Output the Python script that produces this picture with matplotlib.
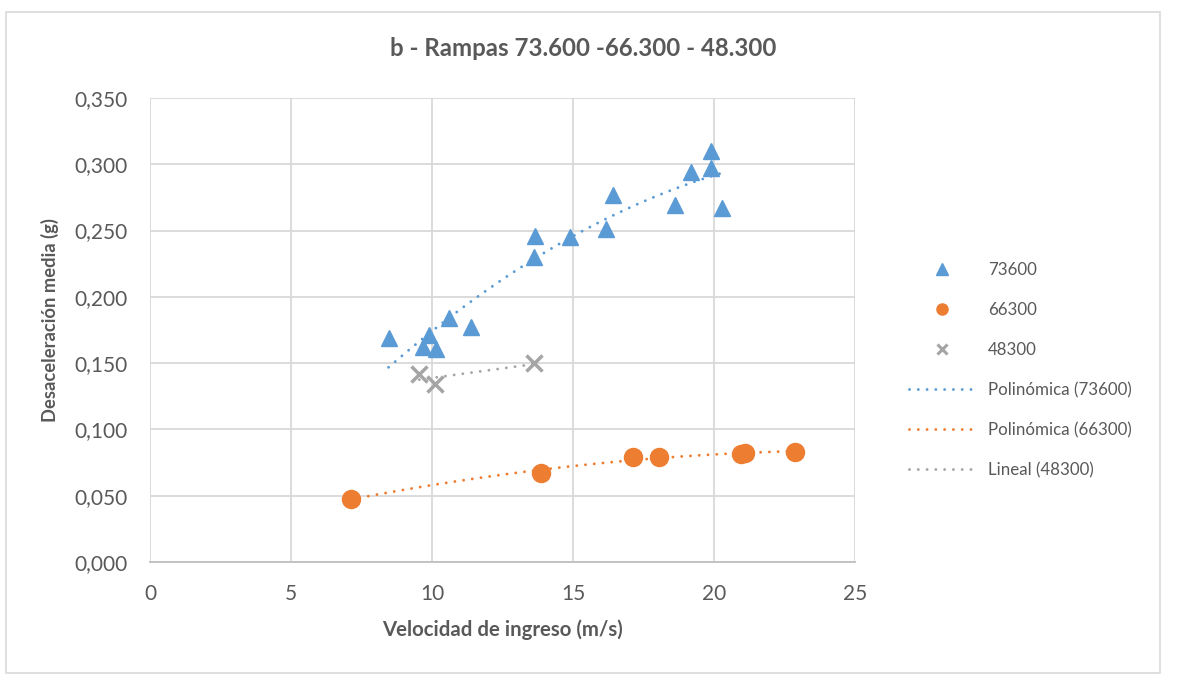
import numpy as np
import matplotlib.pyplot as plt
from matplotlib.patches import Rectangle

plt.rcParams["font.family"] = ["Lato", "DejaVu Sans"]

TEXT = "#595959"
BLUE = "#5B9BD5"
ORANGE = "#ED7D31"
GRAY = "#A5A5A5"

# 73600
x_73600 = [8.46, 9.67, 9.88, 10.14, 10.61, 11.39, 13.60, 13.65, 14.90, 16.18,
           16.43, 18.63, 19.19, 19.90, 19.90, 20.29]
y_73600 = [0.169, 0.162, 0.171, 0.161, 0.184, 0.177, 0.230, 0.246, 0.245, 0.251,
           0.277, 0.269, 0.294, 0.297, 0.310, 0.267]

# 66300
x_66300 = [7.13, 13.88, 17.14, 18.05, 20.94, 21.09, 22.86]
y_66300 = [0.0477, 0.0670, 0.0791, 0.0791, 0.0816, 0.0824, 0.0831]

# 48300
x_48300 = [9.55, 10.12, 13.62]
y_48300 = [0.142, 0.134, 0.150]

x_ticks = [0, 5, 10, 15, 20, 25]
y_ticks = [0.0, 0.05, 0.10, 0.15, 0.20, 0.25, 0.30, 0.35]

fig = plt.figure(figsize=(11.82, 6.75), dpi=100)
fig.patches.append(Rectangle((6 / 1182, 1 - 673 / 675), 1154 / 1182, 661 / 675,
                             transform=fig.transFigure, fill=False,
                             edgecolor="#d9d9d9", linewidth=1.2))

ax = fig.add_axes([150 / 1182, 1 - 562 / 675, 705 / 1182, 464 / 675])

dot = dict(linestyle=(0, (0.01, 3)), dash_capstyle="round", linewidth=2.1)


def trend(x, y, deg):
    c = np.polyfit(x, y, deg)
    xs = np.linspace(min(x), max(x), 100)
    return xs, np.polyval(c, xs)


ax.plot(x_73600, y_73600, "^", color=BLUE, ms=12, mec=BLUE, label="73600", zorder=3)
ax.plot(x_66300, y_66300, "o", color=ORANGE, ms=13, mec=ORANGE, label="66300", zorder=3)
ax.plot(x_48300, y_48300, "x", color=GRAY, ms=11, mew=2.5, label="48300", zorder=3)

xs, ys = trend(x_73600, y_73600, 2)
ax.plot(xs, ys, color=BLUE, label="Polinómica (73600)", zorder=2, **dot)
xs, ys = trend(x_66300, y_66300, 2)
ax.plot(xs, ys, color=ORANGE, label="Polinómica (66300)", zorder=2, **dot)
xs, ys = trend(x_48300, y_48300, 1)
ax.plot(xs, ys, color=GRAY, label="Lineal (48300)", zorder=2, **dot)

ax.set_xlim(0, 25)
ax.set_ylim(0, 0.35)
ax.set_xticks(x_ticks)
ax.set_yticks(y_ticks)
ax.set_yticklabels([f"{v:.3f}".replace(".", ",") for v in y_ticks])
ax.grid(True, color="#d9d9d9", linewidth=1.3)
ax.set_axisbelow(True)
for side in ["top", "right", "left"]:
    ax.spines[side].set_visible(False)
ax.spines["bottom"].set_color("#bfbfbf")
ax.spines["bottom"].set_linewidth(1.3)
ax.tick_params(length=0, labelsize=15, labelcolor=TEXT)
ax.tick_params(axis="y", pad=16)
ax.tick_params(axis="x", pad=16)

fig.text(583 / 1182, 1 - 48 / 675, "b - Rampas 73.600 -66.300 - 48.300",
         ha="center", va="center", fontsize=17.3, fontweight="bold", color=TEXT)
fig.text(502 / 1182, 1 - 630 / 675, "Velocidad de ingreso (m/s)",
         ha="center", va="center", fontsize=14.7, fontweight="bold", color=TEXT)
fig.text(50 / 1182, 1 - 320 / 675, "Desaceleración media (g)", rotation=90,
         ha="center", va="center", fontsize=13.2, fontweight="bold", color=TEXT)

leg = ax.legend(loc="center left", bbox_to_anchor=(894 / 1182, 1 - 370 / 675),
                bbox_transform=fig.transFigure, frameon=False, fontsize=12.2,
                handlelength=3.85, handletextpad=0.8, labelspacing=1.42,
                numpoints=1, labelcolor=TEXT)
for h in leg.legend_handles[:3]:
    h.set_markersize(8 if h.get_marker() != "x" else 7)
    if h.get_marker() == "x":
        h.set_markeredgewidth(2.2)

fig.savefig("out.png", dpi=100)
